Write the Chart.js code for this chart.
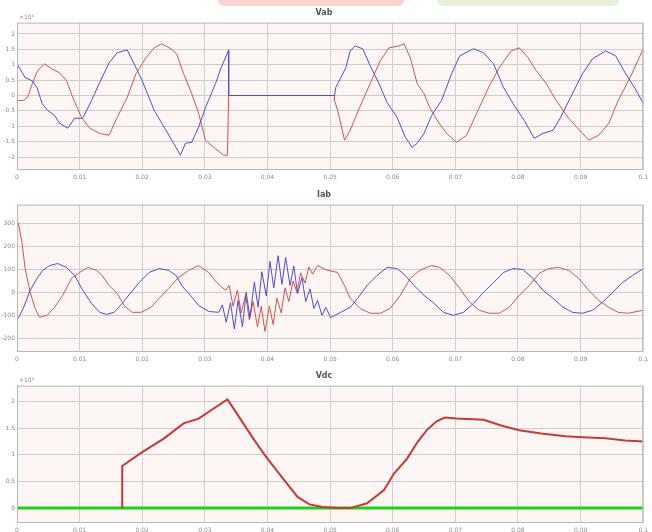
<!DOCTYPE html>
<html>
<head>
<meta charset="utf-8">
<script src="https://cdn.jsdelivr.net/npm/chart.js@4"></script>
<style>
  html, body { margin: 0; padding: 0; background: #fff; overflow: hidden; }
  body { width: 652px; height: 532px; position: relative; font-family: "DejaVu Sans", sans-serif; }
  canvas { position: absolute; left: 0; display: block; }
  .blob { position: absolute; top: 0; height: 6px; border-radius: 0 0 8px 8px; }
</style>
</head>
<body>
<div class="blob" style="left:218px;width:186px;background:#f9d3d0;"></div>
<div class="blob" style="left:437px;width:182px;background:#e5f1d8;"></div>
<canvas id="vab" width="652" height="184" style="top:0"></canvas>
<canvas id="iab" width="652" height="182" style="top:184px"></canvas>
<canvas id="vdc" width="652" height="171" style="top:366px"></canvas>
<script>
// shared time axis (s)
const xTicks = [0, 0.01, 0.02, 0.03, 0.04, 0.05, 0.06, 0.07, 0.08, 0.09, 0.1]

// --- Vab (x10^4) ---
const vabTicks = [-2, -1.5, -1, -0.5, 0, 0.5, 1, 1.5, 2]
const vabBlueT = [0, 0.0013, 0.0024, 0.0032, 0.0040, 0.0049, 0.0060, 0.0068, 0.0081, 0.0092, 0.0105, 0.0119, 0.0132, 0.0147, 0.0160, 0.0176, 0.0187, 0.0200, 0.0219, 0.0238, 0.0250, 0.0261, 0.0269, 0.0279, 0.0290, 0.0301, 0.0317, 0.0326, 0.0338, 0.0338, 0.0507, 0.0509, 0.0517, 0.0525, 0.0532, 0.0540, 0.0552, 0.0564, 0.0578, 0.0591, 0.0607, 0.0620, 0.0631, 0.0639, 0.0650, 0.0662, 0.0678, 0.0694, 0.0707, 0.0729, 0.0745, 0.0761, 0.0777, 0.0792, 0.0810, 0.0826, 0.0840, 0.0856, 0.0868, 0.0884, 0.0903, 0.0919, 0.0940, 0.0956, 0.0971, 0.0987, 0.1]
const vabBlue = [1.03, 0.58, 0.48, 0.26, -0.26, -0.48, -0.65, -0.90, -1.06, -0.74, -0.74, -0.16, 0.42, 1.06, 1.39, 1.48, 1.03, 0.48, -0.48, -1.13, -1.55, -1.94, -1.55, -1.52, -1.03, -0.39, 0.39, 0.90, 1.48, 0, 0, 0.26, 0.58, 0.90, 1.45, 1.61, 1.52, 0.97, 0.39, -0.23, -0.71, -1.35, -1.68, -1.55, -1.23, -0.65, -0.16, 0.71, 1.29, 1.52, 1.39, 1.03, 0.26, -0.26, -0.81, -1.39, -1.23, -1.13, -0.71, -0.06, 0.71, 1.19, 1.45, 1.29, 0.74, 0.23, -0.26]
const vabRedT = [0, 0.0010, 0.0017, 0.0025, 0.0033, 0.0044, 0.0055, 0.0068, 0.0079, 0.0089, 0.0103, 0.0116, 0.0132, 0.0147, 0.0160, 0.0176, 0.0190, 0.0206, 0.0219, 0.0231, 0.0246, 0.0255, 0.0266, 0.0279, 0.0290, 0.0301, 0.0314, 0.0330, 0.0336, 0.0338, 0.0507, 0.0507, 0.0512, 0.0523, 0.0532, 0.0547, 0.0564, 0.0580, 0.0594, 0.0610, 0.0618, 0.0628, 0.0639, 0.0650, 0.0659, 0.0674, 0.0686, 0.0702, 0.0718, 0.0734, 0.0753, 0.0770, 0.0789, 0.0802, 0.0816, 0.0829, 0.0845, 0.0861, 0.0881, 0.0903, 0.0913, 0.0929, 0.0945, 0.0960, 0.0979, 0.1]
const vabRed = [-0.16, -0.16, -0.06, 0.42, 0.81, 1.03, 0.87, 0.74, 0.48, -0.06, -0.71, -1.06, -1.23, -1.29, -0.71, -0.06, 0.71, 1.23, 1.55, 1.68, 1.52, 1.35, 0.71, 0.06, -0.58, -1.45, -1.68, -1.94, -1.94, 0, 0, -0.16, -0.48, -1.45, -1.13, -0.39, 0.39, 1.13, 1.55, 1.61, 1.68, 1.23, 0.39, 0.06, -0.39, -0.90, -1.23, -1.52, -1.29, -0.58, 0.26, 0.90, 1.45, 1.55, 1.23, 0.81, 0.39, -0.16, -0.74, -1.23, -1.45, -1.29, -0.90, -0.16, 0.58, 1.52]

// --- Iab ---
const iabTicks = [-200, -100, 0, 100, 200, 300]
const iabBlueT = [0.0002, 0.0010, 0.0021, 0.0032, 0.0041, 0.0052, 0.0065, 0.0079, 0.0092, 0.0105, 0.0119, 0.0132, 0.0143, 0.0155, 0.0168, 0.0182, 0.0195, 0.0211, 0.0227, 0.0242, 0.0254, 0.0263, 0.0277, 0.0290, 0.0306, 0.0322, 0.0328, 0.0334, 0.0341, 0.0347, 0.0353, 0.0360, 0.0366, 0.0372, 0.0379, 0.0385, 0.0391, 0.0398, 0.0404, 0.0410, 0.0417, 0.0423, 0.0429, 0.0436, 0.0442, 0.0448, 0.0455, 0.0461, 0.0468, 0.0474, 0.0480, 0.0487, 0.0493, 0.0501, 0.0517, 0.0532, 0.0544, 0.0559, 0.0575, 0.0591, 0.0607, 0.0620, 0.0634, 0.0650, 0.0666, 0.0681, 0.0697, 0.0713, 0.0729, 0.0745, 0.0761, 0.0777, 0.0792, 0.0808, 0.0824, 0.0840, 0.0856, 0.0872, 0.0887, 0.0903, 0.0919, 0.0935, 0.0951, 0.0967, 0.0983, 0.1]
const iabBlue = [-113, -70, 9, 61, 96, 117, 126, 109, 74, 9, -48, -87, -96, -87, -48, 0, 43, 87, 104, 96, 74, 30, -13, -57, -83, -87, -55, -130, -45, -160, -35, -150, 0, -110, 45, -65, 90, -15, 135, 20, 160, 35, 152, 30, 115, -5, 65, -40, 15, -70, -35, -100, -65, -110, -87, -65, -26, 30, 74, 109, 104, 74, 30, -13, -48, -87, -100, -87, -48, 0, 43, 87, 104, 100, 61, 9, -26, -65, -87, -91, -78, -43, 0, 43, 74, 104]
const iabRedT = [0.0002, 0.0008, 0.0013, 0.0021, 0.0029, 0.0036, 0.0048, 0.0060, 0.0073, 0.0087, 0.0100, 0.0113, 0.0127, 0.0136, 0.0147, 0.0160, 0.0171, 0.0184, 0.0198, 0.0214, 0.0227, 0.0242, 0.0258, 0.0274, 0.0290, 0.0306, 0.0319, 0.0333, 0.0339, 0.0345, 0.0352, 0.0358, 0.0365, 0.0371, 0.0377, 0.0384, 0.0390, 0.0396, 0.0403, 0.0409, 0.0415, 0.0422, 0.0428, 0.0434, 0.0441, 0.0447, 0.0453, 0.0460, 0.0466, 0.0472, 0.0480, 0.0496, 0.0512, 0.0523, 0.0532, 0.0548, 0.0564, 0.0580, 0.0596, 0.0612, 0.0628, 0.0643, 0.0662, 0.0675, 0.0691, 0.0707, 0.0723, 0.0738, 0.0754, 0.0770, 0.0786, 0.0802, 0.0818, 0.0834, 0.0849, 0.0865, 0.0881, 0.0897, 0.0913, 0.0929, 0.0945, 0.0960, 0.0976, 0.1]
const iabRed = [304, 217, 104, 0, -70, -109, -100, -65, -13, 61, 87, 109, 96, 74, 30, -4, -57, -87, -87, -65, -26, 17, 65, 96, 117, 87, 43, 9, 30, -60, 10, -90, -10, -120, -40, -150, -60, -170, -60, -140, -25, -90, 20, -40, 50, 0, 85, 40, 110, 80, 117, 96, 87, 30, -26, -70, -91, -91, -70, -13, 61, 96, 117, 109, 74, 17, -43, -78, -91, -91, -65, -13, 30, 83, 104, 109, 96, 61, 9, -35, -65, -87, -91, -78]

// --- Vdc (x10^4) ---
const vdcTicks = [0, 0.5, 1, 1.5, 2]
const vdcRedT = [0.0168, 0.0168, 0.0200, 0.0235, 0.0266, 0.0290, 0.0314, 0.0336, 0.0353, 0.0377, 0.0396, 0.0417, 0.0433, 0.0448, 0.0467, 0.0488, 0.0512, 0.0532, 0.0559, 0.0586, 0.0602, 0.0623, 0.0639, 0.0654, 0.0670, 0.0683, 0.0702, 0.0745, 0.0773, 0.0802, 0.0837, 0.0876, 0.0903, 0.0940, 0.0971, 0.1]
const vdcRed = [0, 0.79, 1.05, 1.31, 1.59, 1.68, 1.87, 2.04, 1.74, 1.31, 0.99, 0.67, 0.43, 0.21, 0.07, 0.02, 0, 0, 0.09, 0.34, 0.65, 0.93, 1.23, 1.46, 1.63, 1.70, 1.68, 1.66, 1.55, 1.46, 1.40, 1.35, 1.33, 1.31, 1.27, 1.25]
const vdcGreenT = [0, 0.1]
const vdcGreen = [0, 0]

const BLUE = '#5050c4'
const RED = '#cf5555'

function pts(ts, vs) {
  return ts.map((t, i) => ({ x: t, y: vs[i] }))
}

// plot background, box and exponent label
const framePlugin = {
  id: 'frame',
  beforeDraw(chart) {
    const { ctx, chartArea: a } = chart
    ctx.save()
    ctx.fillStyle = '#fdf6f4'
    ctx.fillRect(a.left, a.top, a.right - a.left, a.bottom - a.top)
    ctx.restore()
  },
  afterDraw(chart, args, opts) {
    const { ctx, chartArea: a } = chart
    ctx.save()
    ctx.strokeStyle = '#b8b8b8'
    ctx.lineWidth = 1
    ctx.strokeRect(a.left + 0.5, a.top + 0.5, a.right - a.left - 1, a.bottom - a.top - 1)
    if (opts.exponent) {
      ctx.fillStyle = '#8a8a8a'
      ctx.font = '6px "DejaVu Sans"'
      ctx.textBaseline = 'bottom'
      ctx.fillText(opts.exponent, a.left + 2, a.top - 2)
    }
    ctx.restore()
  }
}

function makeChart(id, title, datasets, yTicks, yMin, yMax, titleTop, exponent) {
  const ctx = document.getElementById(id).getContext('2d')
  return new Chart(ctx, {
    type: 'scatter',
    data: { datasets },
    plugins: [framePlugin],
    options: {
      responsive: false,
      animation: false,
      layout: { padding: { left: 0, right: 4, top: 0, bottom: 0 } },
      elements: { point: { radius: 0 }, line: { tension: 0 } },
      plugins: {
        legend: { display: false },
        tooltip: { enabled: false },
        title: {
          display: true,
          text: title,
          color: '#555',
          font: { size: 8, family: '"DejaVu Sans"' },
          padding: { top: titleTop, bottom: 5 }
        },
        frame: { exponent }
      },
      scales: {
        x: {
          type: 'linear',
          min: 0,
          max: 0.1,
          afterBuildTicks: axis => { axis.ticks = xTicks.map(v => ({ value: v })) },
          afterFit: scale => { scale.height = 14 },
          grid: { color: '#d2d2d2', drawTicks: false },
          border: { display: false },
          ticks: {
            color: '#8a8a8a',
            font: { size: 6, family: '"DejaVu Sans"' },
            padding: 4,
            maxRotation: 0,
            autoSkip: false,
            callback: v => String(v)
          }
        },
        y: {
          min: yMin,
          max: yMax,
          afterBuildTicks: axis => { axis.ticks = yTicks.map(v => ({ value: v })) },
          afterFit: scale => { scale.width = 17 },
          grid: { color: '#cdcdcd', drawTicks: false },
          border: { display: false },
          ticks: {
            color: '#8a8a8a',
            font: { size: 6, family: '"DejaVu Sans"' },
            padding: 2,
            autoSkip: false,
            callback: v => String(v)
          }
        }
      }
    }
  })
}

makeChart('vab', 'Vab', [
  { data: pts(vabBlueT, vabBlue), showLine: true, borderColor: BLUE, borderWidth: 1 },
  { data: pts(vabRedT, vabRed), showLine: true, borderColor: RED, borderWidth: 1 }
], vabTicks, -2.42, 2.37, 8, '×10⁴')

makeChart('iab', 'Iab', [
  { data: pts(iabBlueT, iabBlue), showLine: true, borderColor: BLUE, borderWidth: 1 },
  { data: pts(iabRedT, iabRed), showLine: true, borderColor: RED, borderWidth: 1 }
], iabTicks, -260, 383, 6, '')

makeChart('vdc', 'Vdc', [
  { data: pts(vdcRedT, vdcRed), showLine: true, borderColor: '#c63a3a', borderWidth: 2 },
  { data: pts(vdcGreenT, vdcGreen), showLine: true, borderColor: '#1fcf1f', borderWidth: 3 }
], vdcTicks, -0.28, 2.3, 5, '×10⁴')
</script>
</body>
</html>
